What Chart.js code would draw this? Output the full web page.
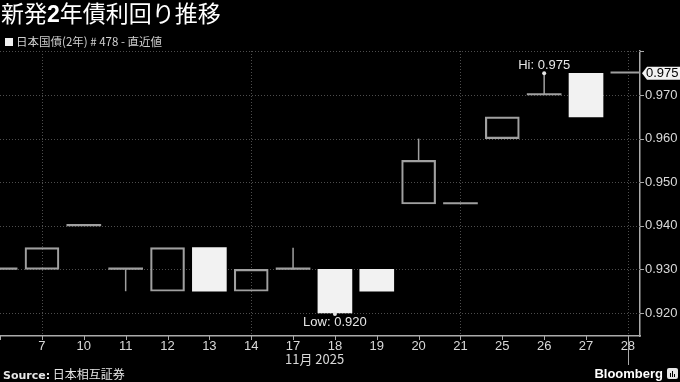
<!DOCTYPE html>
<html lang="ja">
<head>
<meta charset="UTF-8">
<title>新発2年債利回り推移</title>
<style>
    body {
        margin: 0;
        width: 680px;
        height: 382px;
        background: #000;
        overflow: hidden;
        position: relative;
        font-family: "Liberation Sans", sans-serif;
    }
    #chart {
        position: absolute;
        left: 0;
        top: 0;
    }
    .txt {
        position: absolute;
        white-space: nowrap;
        color: #fff;
    }
    #title {
        left: 1px;
        top: -2px;
        font: 23px/28px "Noto Sans CJK JP", sans-serif;
    }
    #title b { font-family: "Liberation Sans", sans-serif; }
    #subtitle {
        left: 5px;
        top: 33px;
        font: 11.5px/16px "Noto Sans CJK JP", sans-serif;
        color: #cfcfcf;
    }
    #subtitle i {
        display: inline-block;
        width: 8px;
        height: 8px;
        background: #f2f2f2;
        margin-right: 3px;
    }
    #month {
        left: 285px;
        top: 351px;
        font: 13px/16px "Noto Sans CJK JP", sans-serif;
        color: #d9d9d9;
    }
    #source {
        left: 3px;
        top: 366px;
        font: 12px/16px "Noto Sans CJK JP", sans-serif;
        color: #e6e6e6;
    }
    #source b { font-family: "DejaVu Sans", sans-serif; font-size: 11px; }
    #brand {
        right: 17px;
        top: 365px;
        font: bold 13px/17px "Liberation Sans", sans-serif;
    }
    #logo {
        position: absolute;
        left: 667px;
        top: 368px;
        width: 11px;
        height: 11px;
        background: #e6e6e6;
        border-radius: 2px;
    }
    #logo span {
        position: absolute;
        bottom: 2px;
        width: 1px;
        background: #000;
    }
</style>
<script src="https://cdn.jsdelivr.net/npm/chart.js"></script>
</head>
<body>

<canvas id="chart" width="680" height="382"></canvas>
<div class="txt" id="title">新発<b>2</b>年債利回り推移</div>
<div class="txt" id="subtitle"><i></i>日本国債(2年) # 478 - 直近値</div>
<div class="txt" id="month">11月 2025</div>
<div class="txt" id="source"><b>Source:</b> 日本相互証券</div>
<div class="txt" id="brand">Bloomberg</div>
<div id="logo"><span style="left:3px;height:4px"></span><span style="left:5px;height:6px"></span><span style="left:7px;height:3px"></span></div>

<script>
    // 2025年11月 日足
    const dates  = ['6', '7', '10', '11', '12', '13', '14', '17', '18', '19', '20', '21', '25', '26', '27', '28'];
    const opens  = [0.930, 0.935, 0.940, 0.930, 0.935, 0.925, 0.930, 0.930, 0.920, 0.925, 0.955, 0.945, 0.965, 0.970, 0.965, 0.975];
    const highs  = [0.930, 0.935, 0.940, 0.930, 0.935, 0.935, 0.930, 0.935, 0.930, 0.930, 0.960, 0.945, 0.965, 0.975, 0.975, 0.975];
    const lows   = [0.930, 0.930, 0.940, 0.925, 0.925, 0.925, 0.925, 0.930, 0.920, 0.925, 0.945, 0.945, 0.960, 0.970, 0.965, 0.975];
    const closes = [0.930, 0.930, 0.940, 0.930, 0.925, 0.935, 0.925, 0.930, 0.930, 0.930, 0.945, 0.945, 0.960, 0.970, 0.975, 0.975];
    const gridDays = ['7', '14', '21', '28'];

    const GRAY = '#a0a0a0';
    const WHITE = '#f2f2f2';

    const bodies = dates.map((d, i) => ({x: i, y: [opens[i], closes[i]]}));
    const upper = dates.map((d, i) => ({x: i, y: [Math.max(opens[i], closes[i]), highs[i]]}));
    const lower = dates.map((d, i) => ({x: i, y: [lows[i], Math.min(opens[i], closes[i])]}));

    function bodyFill(c) {
        const i = c.dataIndex;
        if (opens[i] === closes[i]) return GRAY;
        return closes[i] > opens[i] ? WHITE : 'rgba(0,0,0,0)';
    }
    function bodyBorder(c) {
        const i = c.dataIndex;
        return closes[i] < opens[i] ? 1.5 : 0;
    }

    // 点線グリッド
    const dotGrid = {
        id: 'dotGrid',
        beforeDatasetsDraw(chart) {
            const ctx = chart.ctx;
            const xs = chart.scales.x, ys = chart.scales.y;
            const area = chart.chartArea;
            ctx.save();
            ctx.strokeStyle = '#4d4d4d';
            ctx.lineWidth = 1;
            ctx.setLineDash([1, 2]);
            ys.ticks.forEach(t => {
                const py = Math.round(ys.getPixelForValue(t.value)) + 0.5;
                ctx.beginPath();
                ctx.moveTo(area.left, py);
                ctx.lineTo(area.right, py);
                ctx.stroke();
            });
            xs.ticks.forEach(t => {
                if (!gridDays.includes(dates[t.value])) return;
                const px = Math.round(xs.getPixelForValue(t.value)) + 0.5;
                ctx.beginPath();
                ctx.moveTo(px, area.top);
                ctx.lineTo(px, area.bottom);
                ctx.stroke();
            });
            ctx.restore();
        }
    };

    // 目盛り、高値/安値、直近値ラベル
    const marks = {
        id: 'marks',
        afterDatasetsDraw(chart) {
            const ctx = chart.ctx;
            const xs = chart.scales.x, ys = chart.scales.y;
            const area = chart.chartArea;
            ctx.save();
            ctx.strokeStyle = '#aaa';
            ctx.lineWidth = 1;
            xs.ticks.forEach(t => {
                const px = Math.round(xs.getPixelForValue(t.value)) + 0.5;
                if (px > area.right) return;
                ctx.beginPath();
                ctx.moveTo(px, area.bottom);
                ctx.lineTo(px, area.bottom + (t.value === dates.length - 1 ? 29 : 4));
                ctx.stroke();
            });
            ys.ticks.forEach(t => {
                const py = Math.round(ys.getPixelForValue(t.value)) + 0.5;
                ctx.beginPath();
                ctx.moveTo(area.right, py);
                ctx.lineTo(area.right + 4, py);
                ctx.stroke();
            });

            const hi = Math.max(...highs), lo = Math.min(...lows);
            const hiI = highs.indexOf(hi), loI = lows.indexOf(lo);
            ctx.fillStyle = '#e6e6e6';
            ctx.font = '13px "Liberation Sans"';
            ctx.textAlign = 'center';
            ctx.textBaseline = 'middle';
            const hx = xs.getPixelForValue(hiI), hy = ys.getPixelForValue(hi);
            ctx.beginPath(); ctx.arc(hx, hy, 2, 0, Math.PI * 2); ctx.fill();
            ctx.fillText('Hi: ' + hi.toFixed(3), hx, hy - 8);
            const lx = xs.getPixelForValue(loI), ly = ys.getPixelForValue(lo) + 1;
            ctx.beginPath(); ctx.arc(lx, ly, 2, 0, Math.PI * 2); ctx.fill();
            ctx.fillText('Low: ' + lo.toFixed(3), lx, ly + 8);

            const last = closes[closes.length - 1];
            const ry = ys.getPixelForValue(last);
            const x0 = area.right + 2;
            ctx.fillStyle = '#f2f2f2';
            ctx.beginPath();
            ctx.moveTo(x0, ry);
            ctx.lineTo(x0 + 5, ry - 6.5);
            ctx.lineTo(680, ry - 6.5);
            ctx.lineTo(680, ry + 6.5);
            ctx.lineTo(x0 + 5, ry + 6.5);
            ctx.closePath();
            ctx.fill();
            ctx.fillStyle = '#000';
            ctx.textAlign = 'left';
            ctx.fillText(last.toFixed(3), x0 + 4, ry + 0.5);
            ctx.restore();
        }
    };

    Chart.defaults.font.family = '"Liberation Sans", sans-serif';
    Chart.defaults.font.size = 13;

    new Chart(document.getElementById('chart'), {
        type: 'bar',
        data: {
            datasets: [
                {data: lower, backgroundColor: GRAY, barThickness: 1.5, inflateAmount: 0, grouped: false, clip: 0, order: 2},
                {data: upper, backgroundColor: GRAY, barThickness: 1.5, inflateAmount: 0, grouped: false, clip: 0, order: 2},
                {
                    data: bodies,
                    backgroundColor: bodyFill,
                    borderColor: GRAY,
                    borderWidth: bodyBorder,
                    borderSkipped: false,
                    barThickness: 34,
                    minBarLength: 1.5,
                    grouped: false,
                    clip: 0,
                    order: 1
                }
            ]
        },
        options: {
            responsive: false,
            animation: false,
            layout: {padding: {top: 51, left: 0, right: 0, bottom: 0}},
            plugins: {legend: {display: false}, tooltip: {enabled: false}},
            scales: {
                x: {
                    type: 'linear',
                    offset: false,
                    min: -0.003,
                    max: 15.29,
                    afterFit: s => { s.height = 46; s.paddingLeft = 0; s.paddingRight = 0; },
                    grid: {display: false, drawTicks: false, offset: false},
                    border: {color: '#aaa', width: 1.5},
                    ticks: {
                        stepSize: 1,
                        includeBounds: false,
                        autoSkip: false,
                        maxRotation: 0,
                        padding: 3,
                        color: '#d9d9d9',
                        callback: v => v < 0.5 ? '' : dates[v]
                    }
                },
                y: {
                    position: 'right',
                    min: 0.91473,
                    max: 0.9801,
                    afterFit: s => { s.width = 40; },
                    grid: {display: false, drawTicks: false},
                    border: {color: '#aaa', width: 1.5},
                    ticks: {
                        stepSize: 0.01,
                        includeBounds: false,
                        padding: 5,
                        color: '#d9d9d9',
                        callback: v => v > 0.9795 ? '' : v.toFixed(3)
                    }
                }
            }
        },
        plugins: [dotGrid, marks]
    });
</script>

</body>
</html>
